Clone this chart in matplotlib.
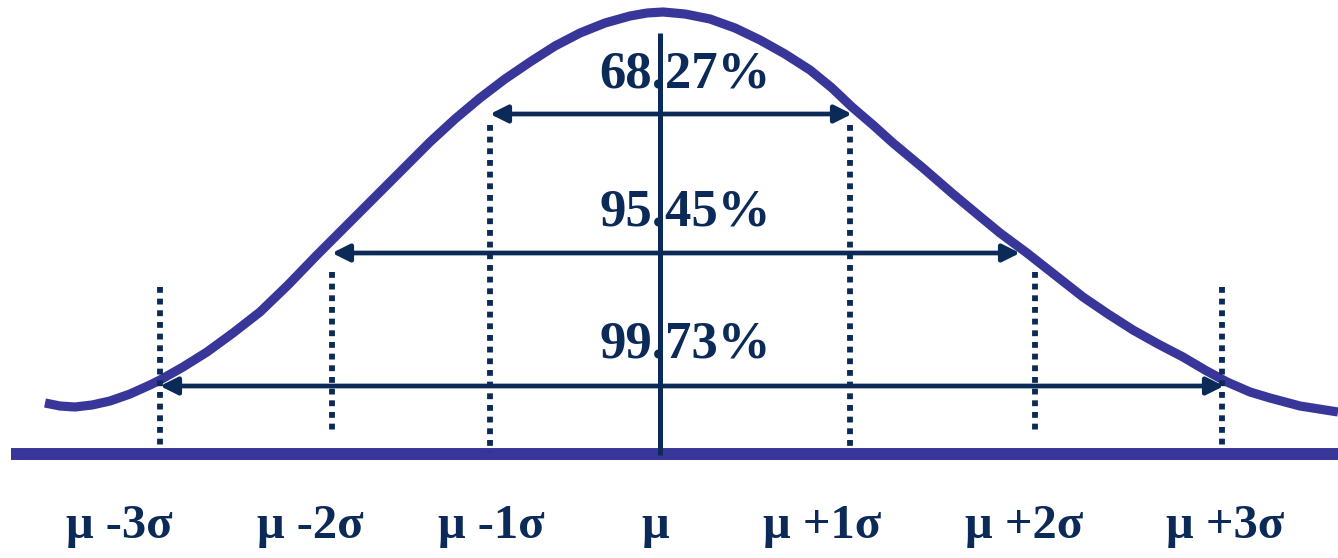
import matplotlib.pyplot as plt
from matplotlib.patches import FancyArrowPatch

# Drawing space follows the picture: x to the right, y downward (pixels)
W, H = 1338, 558

# bell curve
curve_x = [45, 60, 75, 92, 110, 130, 150, 160, 183, 207, 233, 260, 288, 317,
           350, 390, 410, 430, 455, 480, 505, 530, 555, 580, 605, 630, 647,
           663, 685, 710, 735, 760, 785, 810, 832, 852, 873, 893, 923, 953,
           977, 1000, 1027, 1055, 1083, 1108, 1133, 1158, 1183, 1205, 1227,
           1250, 1270, 1300, 1338]
curve_y = [403, 406, 407, 405, 401, 394, 385, 380, 367, 352, 333, 312, 285, 255,
           222, 182, 162, 142, 119, 98, 79, 62, 46, 33, 23, 16, 13,
           12, 14, 19, 28, 40, 54, 70, 88, 107, 125, 143, 168, 194,
           214, 233, 253, 275, 297, 314, 330, 344, 357, 370, 382,
           392, 398, 406, 412]

# sigma marks
sigma_labels = ['μ -3σ', 'μ -2σ', 'μ -1σ', 'μ', 'μ +1σ', 'μ +2σ', 'μ +3σ']
sigma_x = [160, 332, 490, 660, 850, 1035, 1222]
label_x = [119, 310, 491, 655, 822, 1024, 1225]
mark_top = [287, 272, 125, 33, 125, 272, 287]
mark_bottom = [450, 434, 452, 455, 446, 434, 450]

# coverage bands
band_labels = ['68.27%', '95.45%', '99.73%']
band_left = [490, 332, 160]
band_right = [852, 1020, 1224]
band_y = [114, 253, 386]
band_text_y = [75, 213, 345]

CURVE = '#39369a'
NAVY = '#0b2a57'

fig = plt.figure(figsize=(W / 100, H / 100), dpi=100)
ax = fig.add_axes([0, 0, 1, 1])
ax.set_xlim(0, W)
ax.set_ylim(H, 0)
ax.axis('off')

# baseline and curve
ax.plot([11, W], [454, 454], color=CURVE, lw=8.6, solid_capstyle='butt', zorder=2)
ax.plot(curve_x, curve_y, color=CURVE, lw=6.6, solid_capstyle='butt',
        solid_joinstyle='round', zorder=3)

# vertical marks
for i, x in enumerate(sigma_x):
    if sigma_labels[i] == 'μ':
        ax.plot([x, x], [mark_top[i], mark_bottom[i]], color=NAVY, lw=3.6,
                solid_capstyle='butt', zorder=4)
    else:
        ax.plot([x, x], [mark_top[i], mark_bottom[i]], color=NAVY, lw=4.2,
                dashes=(1.0, 1.0), dash_capstyle='butt', zorder=4)

# arrows and percentages
for lab, x0, x1, y, ty in zip(band_labels, band_left, band_right, band_y, band_text_y):
    arr = FancyArrowPatch((x0, y), (x1, y), arrowstyle='<|-|>',
                          mutation_scale=26, lw=3.4, color=NAVY,
                          shrinkA=0, shrinkB=0, zorder=5)
    ax.add_patch(arr)
    ax.text(685, ty, lab, ha='center', va='center', color=NAVY,
            fontsize=38, fontweight='bold', family='Liberation Serif', zorder=6)

# axis labels
for lab, x in zip(sigma_labels, label_x):
    ax.text(x, 526, lab, ha='center', va='center', color=NAVY,
            fontsize=35, fontweight='bold', family='Liberation Serif')

fig.savefig('out.png', dpi=100)
